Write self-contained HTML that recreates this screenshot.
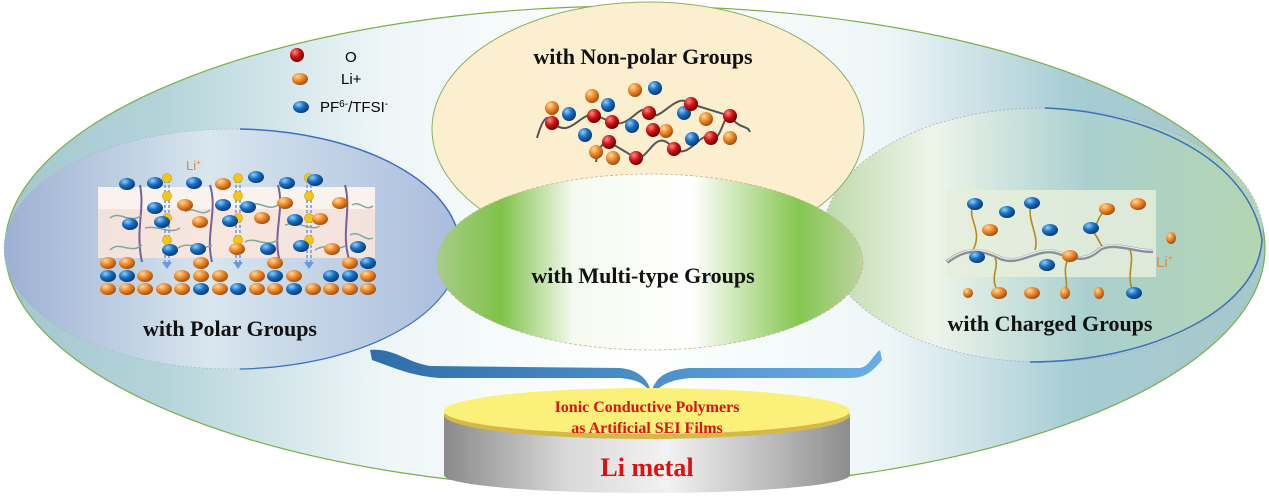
<!DOCTYPE html>
<html><head><meta charset="utf-8"><style>
html,body{margin:0;padding:0;background:#fff;}
svg{display:block;}
text{font-family:"Liberation Serif",serif;font-weight:bold;}
</style></head><body>
<svg width="1269" height="497" viewBox="0 0 1269 497" xmlns="http://www.w3.org/2000/svg">
<defs>
<linearGradient id="outer" x1="0" x2="1" y1="0" y2="0">
<stop offset="0" stop-color="#a3c7cf"/><stop offset="0.12" stop-color="#b3d3d9"/><stop offset="0.3" stop-color="#eef6f7"/><stop offset="0.5" stop-color="#ffffff"/><stop offset="0.7" stop-color="#eef6f7"/><stop offset="0.85" stop-color="#a6ccd4"/><stop offset="1" stop-color="#a5c8c8"/>
</linearGradient>
<linearGradient id="polar" x1="0" x2="1">
<stop offset="0" stop-color="#9db0d3"/><stop offset="0.45" stop-color="#d8e6ee"/><stop offset="1" stop-color="#a9bcdc"/>
</linearGradient>
<linearGradient id="charged" x1="0" x2="1">
<stop offset="0" stop-color="#bcd9a8"/><stop offset="0.25" stop-color="#eef5ea"/><stop offset="0.6" stop-color="#a9d0cf"/><stop offset="1" stop-color="#b4d5b0"/>
</linearGradient>
<linearGradient id="multi" x1="0" x2="1">
<stop offset="0" stop-color="#a8cc8a"/><stop offset="0.15" stop-color="#7fc24a"/><stop offset="0.32" stop-color="#f5faf0"/><stop offset="0.6" stop-color="#ffffff"/><stop offset="0.85" stop-color="#85c650"/><stop offset="1" stop-color="#bcd4a0"/>
</linearGradient>
<linearGradient id="side" x1="0" x2="1">
<stop offset="0" stop-color="#8a8a8a"/><stop offset="0.3" stop-color="#d8d8d8"/><stop offset="0.55" stop-color="#f2f2f2"/><stop offset="0.8" stop-color="#bcbcbc"/><stop offset="1" stop-color="#8d8d8d"/>
</linearGradient>
<linearGradient id="brace" x1="0" x2="1">
<stop offset="0" stop-color="#2f6ea8"/><stop offset="0.5" stop-color="#4a8cc6"/><stop offset="1" stop-color="#6aaee6"/>
</linearGradient>
<radialGradient id="gb" cx="0.35" cy="0.3" r="0.7"><stop offset="0" stop-color="#8fd0ff"/><stop offset="0.5" stop-color="#1a6fc0"/><stop offset="1" stop-color="#0b3c78"/></radialGradient>
<radialGradient id="go" cx="0.35" cy="0.3" r="0.7"><stop offset="0" stop-color="#ffd9a0"/><stop offset="0.5" stop-color="#ee8a2a"/><stop offset="1" stop-color="#a5500f"/></radialGradient>
<radialGradient id="gr" cx="0.35" cy="0.3" r="0.7"><stop offset="0" stop-color="#ff8a8a"/><stop offset="0.5" stop-color="#d01515"/><stop offset="1" stop-color="#700000"/></radialGradient>
<ellipse id="b" cx="0" cy="0" rx="8" ry="6" fill="url(#gb)"/>
<ellipse id="o" cx="0" cy="0" rx="8" ry="6" fill="url(#go)"/>
<circle id="r" cx="0" cy="0" r="7" fill="url(#gr)"/>
<circle id="bb" cx="0" cy="0" r="7" fill="url(#gb)"/>
<circle id="oo" cx="0" cy="0" r="7" fill="url(#go)"/>
<circle id="y" cx="0" cy="0" r="4.5" fill="#f5c518" stroke="#c79a00" stroke-width="0.6"/>
</defs>

<!-- outer ellipse -->
<ellipse cx="635" cy="248" rx="630" ry="242" fill="url(#outer)" stroke="#7aaf4a" stroke-width="1.2"/>

<!-- polar ellipse -->
<ellipse cx="232" cy="249" rx="228" ry="120" fill="url(#polar)" stroke="#9bb" stroke-width="0.6" stroke-dasharray="2,2"/>
<path d="M240,129 A228,120 0 0 1 460,249" fill="none" stroke="#3b6fc0" stroke-width="1.5"/>
<path d="M460,249 A228,120 0 0 1 240,369" fill="none" stroke="#3b6fc0" stroke-width="1.2"/>

<!-- charged ellipse -->
<ellipse cx="1043" cy="235" rx="220" ry="127" fill="url(#charged)" stroke="#a9c" stroke-width="0.6" stroke-dasharray="2,2"/>
<path d="M1045,108 C1150,112 1250,160 1262,240 C1258,310 1150,362 1030,362" fill="none" stroke="#3b6fc0" stroke-width="1.5"/>

<!-- non-polar ellipse -->
<ellipse cx="648" cy="129" rx="216" ry="127" fill="#fbefcf" stroke="#8ab060" stroke-width="1"/>

<!-- multi ellipse -->
<ellipse cx="650" cy="262" rx="213" ry="88" fill="url(#multi)" stroke="#c9b58a" stroke-width="0.8" stroke-dasharray="3,2"/>

<!-- legend -->
<use href="#r" x="297" y="55"/><text x="345" y="62" style="font-family:'Liberation Sans',sans-serif;font-weight:normal" font-size="15">O</text>
<use href="#o" x="300" y="79"/><text x="341" y="84" style="font-family:'Liberation Sans',sans-serif;font-weight:normal" font-size="15">Li+</text>
<use href="#b" x="301" y="107"/><text x="320" y="112" style="font-family:'Liberation Sans',sans-serif;font-weight:normal" font-size="15">PF<tspan font-size="10" dy="-5">6-</tspan><tspan dy="5">/TFSI</tspan><tspan font-size="10" dy="-5">-</tspan></text>

<!-- polar inner -->
<rect x="98" y="187" width="277" height="71" fill="#fbe6da" opacity="0.85"/>
<rect x="98" y="187" width="277" height="22" fill="#fbf3ee" opacity="0.9"/>
<g stroke="#7a5fa0" stroke-width="2" fill="none">
<path d="M140,185 C145,210 135,230 142,262"/><path d="M210,185 C218,210 205,235 212,262"/><path d="M278,185 C285,210 272,235 280,262"/><path d="M345,185 C352,210 340,235 350,262"/>
</g>
<g stroke="#7fa8a0" stroke-width="1.5" fill="none">
<path d="M110,218 C120,210 130,225 142,215"/><path d="M110,250 C120,240 130,255 142,245"/><path d="M145,228 C160,225 170,235 180,228"/><path d="M185,212 C195,205 200,218 210,210"/><path d="M178,248 C190,240 200,252 212,245"/><path d="M250,205 C260,200 268,212 278,205"/><path d="M245,242 C255,236 265,248 278,240"/><path d="M285,225 C300,220 310,232 320,226"/><path d="M315,250 C328,242 335,252 345,246"/><path d="M352,205 C360,200 365,212 373,206"/><path d="M350,235 C360,230 365,242 373,238"/>
</g>
<g stroke="#6a9ad8" stroke-width="1.5" stroke-dasharray="3,2">
<line x1="165" y1="180" x2="165" y2="262"/><line x1="169" y1="180" x2="169" y2="262"/>
<line x1="236" y1="180" x2="236" y2="262"/><line x1="240" y1="180" x2="240" y2="262"/>
<line x1="307" y1="180" x2="307" y2="262"/><line x1="311" y1="180" x2="311" y2="262"/>
</g>
<g fill="#6a9ad8"><path d="M162,262 l5,7 l5,-7z"/><path d="M233,262 l5,7 l5,-7z"/><path d="M304,262 l5,7 l5,-7z"/></g>
<g>
<use href="#y" x="167" y="178"/><use href="#y" x="167" y="196"/><use href="#y" x="167" y="218"/><use href="#y" x="167" y="240"/>
<use href="#y" x="238" y="178"/><use href="#y" x="238" y="196"/><use href="#y" x="238" y="218"/><use href="#y" x="238" y="240"/>
<use href="#y" x="309" y="178"/><use href="#y" x="309" y="196"/><use href="#y" x="309" y="218"/><use href="#y" x="309" y="240"/>
</g>
<text x="186" y="170" fill="#e8833a" font-size="13" style="font-family:'Liberation Sans',sans-serif;font-weight:normal">Li<tspan font-size="8" dy="-5">+</tspan></text>
<g>
<use href="#b" x="127" y="184"/><use href="#b" x="155" y="183"/><use href="#b" x="194" y="183"/><use href="#o" x="223" y="184"/><use href="#b" x="256" y="177"/><use href="#b" x="287" y="183"/><use href="#b" x="315" y="180"/>
<use href="#b" x="155" y="208"/><use href="#o" x="185" y="205"/><use href="#b" x="223" y="205"/><use href="#b" x="248" y="207"/><use href="#o" x="285" y="203"/><use href="#o" x="340" y="203"/>
<use href="#b" x="130" y="224"/><use href="#b" x="162" y="222"/><use href="#o" x="200" y="222"/><use href="#b" x="230" y="221"/><use href="#o" x="262" y="218"/><use href="#b" x="295" y="220"/><use href="#o" x="320" y="219"/>
<use href="#b" x="170" y="250"/><use href="#b" x="198" y="249"/><use href="#o" x="237" y="249"/><use href="#b" x="268" y="249"/><use href="#b" x="301" y="246"/><use href="#o" x="332" y="249"/><use href="#b" x="358" y="247"/>
<use href="#o" x="108" y="263"/><use href="#o" x="127" y="263"/><use href="#o" x="201" y="263"/><use href="#o" x="275" y="263"/><use href="#o" x="350" y="263"/><use href="#b" x="368" y="263"/>
<use href="#b" x="108" y="276"/><use href="#b" x="127" y="276"/><use href="#o" x="145" y="276"/><use href="#o" x="182" y="276"/><use href="#o" x="201" y="276"/><use href="#o" x="220" y="276"/><use href="#o" x="257" y="276"/><use href="#b" x="275" y="276"/><use href="#o" x="294" y="276"/><use href="#b" x="331" y="276"/><use href="#b" x="350" y="276"/><use href="#o" x="368" y="276"/>
<use href="#o" x="108" y="289"/><use href="#o" x="127" y="289"/><use href="#o" x="145" y="289"/><use href="#o" x="164" y="289"/><use href="#o" x="182" y="289"/><use href="#b" x="201" y="289"/><use href="#o" x="220" y="289"/><use href="#b" x="238" y="289"/><use href="#o" x="257" y="289"/><use href="#o" x="275" y="289"/><use href="#b" x="294" y="289"/><use href="#o" x="313" y="289"/><use href="#o" x="331" y="289"/><use href="#o" x="350" y="289"/><use href="#o" x="368" y="289"/>
</g>
<text x="230" y="336" text-anchor="middle" font-size="22" fill="#111">with Polar Groups</text>

<!-- non-polar molecules -->
<g stroke="#555" stroke-width="2" fill="none">
<path d="M537,138 C545,110 550,118 552,122 C570,140 580,112 594,115 L612,122 C630,130 640,100 649,113 C660,125 675,90 691,104 L730,116 C740,130 748,125 750,132"/>
<path d="M596,162 C600,140 605,145 609,142 L636,158 C650,160 655,125 674,149 C690,160 700,130 711,138 C720,145 725,110 730,116"/>
</g>
<g>
<use href="#oo" x="552" y="108"/><use href="#oo" x="592" y="96"/><use href="#oo" x="635" y="90"/><use href="#oo" x="706" y="119"/><use href="#oo" x="666" y="131"/><use href="#oo" x="730" y="138"/><use href="#oo" x="596" y="152"/><use href="#oo" x="613" y="158"/>
<use href="#bb" x="569" y="114"/><use href="#bb" x="585" y="135"/><use href="#bb" x="608" y="105"/><use href="#bb" x="655" y="88"/><use href="#bb" x="684" y="113"/><use href="#bb" x="632" y="126"/><use href="#bb" x="692" y="139"/>
<use href="#r" x="552" y="123"/><use href="#r" x="594" y="116"/><use href="#r" x="612" y="122"/><use href="#r" x="649" y="113"/><use href="#r" x="691" y="104"/><use href="#r" x="730" y="116"/><use href="#r" x="609" y="142"/><use href="#r" x="653" y="130"/><use href="#r" x="674" y="149"/><use href="#r" x="711" y="138"/><use href="#r" x="636" y="158"/>
</g>
<text x="643" y="64" text-anchor="middle" font-size="22" fill="#111">with Non-polar Groups</text>

<text x="643" y="283" text-anchor="middle" font-size="22" fill="#111">with Multi-type Groups</text>

<!-- charged inner -->
<rect x="946" y="190" width="210" height="87" fill="#e6efdc" opacity="0.85"/>
<g stroke="#b08a20" stroke-width="1.6" fill="none">
<path d="M974,204 C965,218 985,230 972,252"/><path d="M1032,203 C1025,218 1040,235 1035,250"/><path d="M1091,228 C1098,238 1100,243 1103,248"/><path d="M1107,209 C1095,218 1100,225 1091,228"/>
<path d="M999,293 C988,278 1000,268 995,258"/><path d="M1070,256 C1060,270 1070,282 1065,293"/><path d="M1134,293 C1125,278 1135,262 1130,250"/>
</g>
<path d="M947,262 C965,248 980,248 1000,258 C1020,266 1035,248 1055,252 C1075,258 1085,263 1100,249 C1115,241 1135,252 1153,251" fill="none" stroke="#8a8f96" stroke-width="4"/>
<path d="M947,261 C965,247 980,247 1000,257 C1020,265 1035,247 1055,251 C1075,257 1085,262 1100,248 C1115,240 1135,251 1153,250" fill="none" stroke="#e8ecf0" stroke-width="1.3"/>
<g>
<use href="#b" x="975" y="204"/><use href="#b" x="1007" y="212"/><use href="#b" x="1032" y="203"/><use href="#b" x="1050" y="230"/><use href="#b" x="1091" y="228"/><use href="#b" x="977" y="257"/><use href="#b" x="1047" y="265"/><use href="#b" x="1134" y="293"/>
<use href="#o" x="990" y="230"/><use href="#o" x="1107" y="209"/><use href="#o" x="1138" y="204"/><use href="#o" x="1070" y="256"/><use href="#o" x="999" y="293"/><use href="#o" x="1032" y="293"/>
<ellipse cx="1171" cy="238" rx="5" ry="6" fill="url(#go)"/><ellipse cx="968" cy="293" rx="5" ry="5" fill="url(#go)"/><ellipse cx="1065" cy="293" rx="5" ry="6" fill="url(#go)"/><ellipse cx="1099" cy="293" rx="5" ry="6" fill="url(#go)"/>
</g>
<text x="1156" y="267" fill="#e8833a" font-size="15" style="font-family:'Liberation Sans',sans-serif;font-weight:normal">Li<tspan font-size="9" dy="-6">+</tspan></text>
<text x="1050" y="331" text-anchor="middle" font-size="22" fill="#111">with Charged Groups</text>

<!-- brace -->
<path d="M370,350 C395,348 405,362 430,366 L620,368 C640,370 648,380 651,392 C656,378 664,370 690,368 L860,368 C870,366 872,356 880,350 L882,360 C872,372 865,378 850,378 L690,378 C670,380 660,385 652,395 C646,385 640,380 620,378 L440,378 C410,376 390,366 372,360 Z" fill="url(#brace)"/>

<!-- disk -->
<path d="M444,415 L444,475 A203,18 0 0 0 850,475 L850,415 Z" fill="url(#side)"/>
<g stroke="#b0b0b0" stroke-width="0.6" opacity="0.6">
<line x1="470" y1="420" x2="470" y2="478"/><line x1="500" y1="422" x2="500" y2="480"/><line x1="530" y1="424" x2="530" y2="482"/><line x1="760" y1="424" x2="760" y2="482"/><line x1="790" y1="422" x2="790" y2="480"/><line x1="820" y1="420" x2="820" y2="478"/>
</g>
<ellipse cx="647" cy="415" rx="203" ry="24" fill="#d4b94a"/>
<ellipse cx="647" cy="411" rx="203" ry="23" fill="#fbf17a"/>
<text x="647" y="412" text-anchor="middle" font-size="16" fill="#e01010">Ionic Conductive Polymers</text>
<text x="647" y="433" text-anchor="middle" font-size="16" fill="#e01010">as Artificial SEI Films</text>
<text x="647" y="476" text-anchor="middle" font-size="26" fill="#e01010">Li metal</text>
</svg>
</body></html>
